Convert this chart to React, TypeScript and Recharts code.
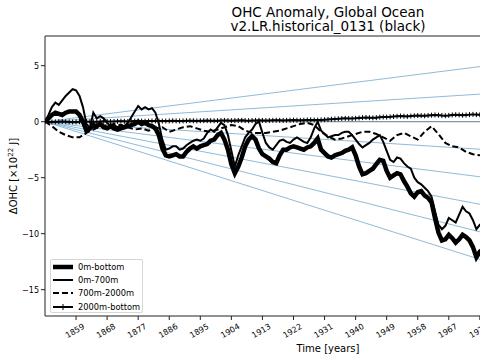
import React from 'react';
import { LineChart, Line, XAxis, YAxis, ReferenceLine, Legend } from 'recharts';

const FONT = '"DejaVu Sans", sans-serif';

// x axis
const X_DOMAIN = [1850, 2014];
const X_TICKS = [1859, 1868, 1877, 1886, 1895, 1904, 1913, 1922, 1931, 1940, 1949, 1958, 1967, 1976, 1985, 1994, 2003, 2012];
const Y_DOMAIN = [-17.35, 7.65];
const Y_TICKS = [-15, -10, -5, 0, 5];

// reference trend lines: start at 0 in 1850, value reached at 2014
const TREND_YEARS = [1850, 2014];
const TREND_END = [6.4, 3.2, 0, -3.2, -6.4, -9.6, -12.8, -16.0];

// annual series, first year 1850
const FIRST_YEAR = 1850;
const OHC_0_BOTTOM = [
  0, 0.3, 0.6, 0.8, 0.7, 0.6, 0.8, 0.9, 0.9, 0.9,
  0.6, 0.0, -0.8, -0.6, -0.3, -0.4, -0.2, -0.5, -0.6, -0.4,
  -0.6, -0.7, -0.6, -0.5, -0.4, -0.3, -0.2, 0.0, -0.2, -0.1,
  -0.3, -0.4, -0.6, -1.2, -2.4, -3.0, -3.1, -3.0, -2.9, -3.1,
  -3.1, -2.7, -2.4, -2.2, -2.4, -2.2, -2.1, -2.0, -1.7, -1.6,
  -1.2, -1.0, -1.6, -2.5, -3.8, -4.6, -4.0, -3.2, -2.2, -1.6,
  -1.3, -1.6, -2.4, -2.9, -3.1, -3.3, -3.6, -3.7, -3.0, -2.5,
  -2.5, -2.3, -2.2, -2.3, -2.4, -2.5, -2.3, -2.2, -1.9, -1.5,
  -2.5, -2.8, -3.1, -3.2, -3.0, -2.9, -2.8, -2.6, -2.5, -2.3,
  -3.0, -4.0, -4.7, -4.6, -4.4, -4.2, -3.8, -3.4, -3.5, -4.4,
  -5.0, -4.8, -4.6, -4.7, -5.3, -5.8, -6.4, -6.7, -6.3, -6.2,
  -6.6, -6.8, -7.2, -8.6, -9.9, -10.6, -10.5, -10.1, -10.4, -10.8,
  -10.5, -10.1, -10.3, -10.6, -11.2, -12.1, -11.6, -11.4,
];
const OHC_0_700 = [
  0, 0.6, 1.3, 1.7, 1.5, 1.9, 2.3, 2.6, 2.9, 2.8,
  2.3, 1.3, -0.2, -0.6, 0.8, 0.3, 0.5, 0.3, -0.1, -0.4,
  -0.3, -0.5, -0.3, -0.4, -0.1, 0.4, 0.9, 1.4, 1.1, 1.3,
  1.1, 1.2, 0.8, -0.2, -1.6, -2.5, -2.4, -2.2, -2.2, -2.5,
  -2.4, -2.1, -1.9, -1.7, -1.6, -1.7, -1.5, -1.0, -0.7, -0.9,
  -0.5, -0.1, -0.3, -1.2, -2.6, -4.0, -3.0, -2.2, -1.4, -1.0,
  -0.7, -0.2, 0.0, -1.0, -1.9, -2.3, -2.5, -2.1, -1.7, -1.6,
  -1.8, -1.9, -1.6, -1.4, -1.6, -1.8, -1.9, -1.4, -0.6, 0.0,
  -0.8, -1.1, -1.4, -1.3, -1.2, -1.2, -1.0, -0.9, -0.9, -1.2,
  -1.6, -2.0, -2.3, -2.1, -1.9, -1.6, -1.4, -1.2, -1.8, -2.6,
  -3.4, -3.6, -3.2, -3.3, -3.7, -4.0, -4.2, -5.0, -5.4, -5.6,
  -5.9, -6.2, -6.7, -8.0, -9.2, -9.6, -9.3, -8.6, -8.8, -9.0,
  -8.3, -7.6, -8.0, -8.2, -8.8, -9.6, -9.2, -9.0,
];
const OHC_2000_BOTTOM = [
  0, -0.02, -0.03, -0.02, 0, 0.01, 0, -0.02, -0.03, -0.02,
  0, 0.02, 0.01, 0, -0.01, 0, 0.02, 0.03, 0.02, 0.01,
  0.02, 0.03, 0.04, 0.03, 0.02, 0.03, 0.05, 0.06, 0.05, 0.04,
  0.05, 0.06, 0.07, 0.06, 0.05, 0.06, 0.07, 0.08, 0.07, 0.06,
  0.07, 0.08, 0.09, 0.08, 0.07, 0.08, 0.09, 0.1, 0.09, 0.08,
  0.09, 0.1, 0.11, 0.1, 0.09, 0.1, 0.11, 0.12, 0.1, 0.09,
  0.1, 0.11, 0.12, 0.11, 0.1, 0.11, 0.12, 0.13, 0.12, 0.11,
  0.12, 0.13, 0.14, 0.13, 0.12, 0.13, 0.15, 0.16, 0.15, 0.14,
  0.16, 0.18, 0.2, 0.22, 0.24, 0.26, 0.28, 0.3, 0.29, 0.28,
  0.3, 0.33, 0.36, 0.38, 0.36, 0.34, 0.36, 0.4, 0.42, 0.41,
  0.43, 0.46, 0.48, 0.5, 0.49, 0.47, 0.5, 0.53, 0.55, 0.54,
  0.52, 0.55, 0.58, 0.6, 0.58, 0.55, 0.53, 0.56, 0.6, 0.62,
  0.6, 0.58, 0.6, 0.63, 0.65, 0.63, 0.62, 0.64,
];
// two-yearly series, first year 1850
const OHC_700_2000 = [
  0, -0.4, -0.9, -1.2, -1.4, -1.4, -1.0, -0.7, -0.4, -0.3,
  -0.2, -0.3, -0.5, -0.7, -0.6, -0.8, -0.6, -0.5, -0.9, -0.7,
  -0.5, -0.4, -0.6, -0.8, -0.9, -0.7, -0.5, -0.3, -0.4, -0.8,
  -1.0, -1.0, -1.0, -0.9, -0.8, -0.6, -0.4, -0.2, -0.1, -0.3,
  -0.9, -1.3, -1.6, -1.5, -1.3, -1.1, -0.9, -0.9, -1.1, -1.4,
  -1.7, -1.2, -1.0, -1.3, -1.6, -0.9, -0.4, -1.1, -1.9, -2.2,
  -2.3, -2.7, -2.9, -3.0, -3.1,
];

const toRows = (vals: number[], step: number) =>
  vals.map((v, i) => ({ year: FIRST_YEAR + i * step, v }));

const fmtY = (v: number) => (v < 0 ? `\u2212${Math.abs(v)}` : `${v}`);

const XTick = (props: any) => {
  const { x, y, payload } = props;
  return (
    <g transform={`translate(${x - 1},${y + 9})`}>
      <text transform="rotate(-30)" textAnchor="middle" dominantBaseline="central" fontSize={8} fontFamily={FONT} fill="#000">
        {payload.value}
      </text>
    </g>
  );
};

const PlusDot = (props: any) => {
  const { cx, cy, index } = props;
  if (cx == null || cy == null) return <g key={`p${index}`} />;
  return (
    <path key={`p${index}`} d={`M${cx - 2.5},${cy}h5M${cx},${cy - 2.5}v5`} stroke="#000" strokeWidth={1} fill="none" />
  );
};

const LEGEND_ITEMS = [
  { label: '0m-bottom', width: 4.5, dash: undefined, plus: false },
  { label: '0m-700m', width: 2, dash: undefined, plus: false },
  { label: '700m-2000m', width: 2, dash: '6 3', plus: false },
  { label: '2000m-bottom', width: 2, dash: undefined, plus: true },
];

const LegendBox = () => (
  <div
    style={{
      width: 93,
      height: 54,
      border: '1px solid #d6d6d6',
      borderRadius: 2,
      background: 'rgba(255,255,255,0.8)',
      boxSizing: 'border-box',
      paddingTop: 0,
    }}
  >
    {LEGEND_ITEMS.map((it) => (
      <div key={it.label} style={{ display: 'flex', alignItems: 'center', height: 13.3, fontFamily: FONT, fontSize: 8.3, color: '#000' }}>
        <svg width={26} height={10} style={{ marginLeft: 1 }}>
          <line x1={1} y1={5} x2={21} y2={5} stroke="#000" strokeWidth={it.width} strokeDasharray={it.dash} />
          {it.plus && <line x1={11} y1={2} x2={11} y2={8} stroke="#000" strokeWidth={1} />}
        </svg>
        <span>{it.label}</span>
      </div>
    ))}
  </div>
);

const YLabel = (props: any) => {
  const cy = props.viewBox ? props.viewBox.y + props.viewBox.height / 2 : 176;
  return (
    <text x={17} y={cy} transform={`rotate(-90, 17, ${cy})`} textAnchor="middle" fontSize={10} fontFamily={FONT} fill="#000">
      ΔOHC [×10<tspan dy={-4} fontSize={7}>22</tspan>
      <tspan dy={4}> J]</tspan>
    </text>
  );
};

const XLabel = (props: any) => {
  const cx = props.viewBox ? props.viewBox.x + props.viewBox.width / 2 : 328;
  return (
    <text x={cx} y={351.5} textAnchor="middle" fontSize={10} fontFamily={FONT} fill="#000">
      Time [years]
    </text>
  );
};

const App: React.FC = () => {
  const thick = toRows(OHC_0_BOTTOM, 1);
  const upper = toRows(OHC_0_700, 1);
  const mid = toRows(OHC_700_2000, 2);
  const deep = toRows(OHC_2000_BOTTOM, 1);

  return (
    <div style={{ position: 'absolute', left: 0, top: 0, width: 480, height: 360, overflow: 'hidden', background: '#fff' }}>
      <div
        style={{
          position: 'absolute',
          left: 0,
          top: 4.6,
          width: 656,
          textAlign: 'center',
          fontFamily: FONT,
          fontSize: 13.5,
          lineHeight: '14.5px',
          color: '#000',
        }}
      >
        OHC Anomaly, Global Ocean
        <br />
        v2.LR.historical_0131 (black)
      </div>
      <div style={{ position: 'absolute', left: 0, top: 0 }}>
        <LineChart width={620} height={360} margin={{ top: 36, right: 9, bottom: 0, left: 10 }}>
          <XAxis
            type="number"
            dataKey="year"
            domain={X_DOMAIN}
            ticks={X_TICKS}
            interval={0}
            allowDataOverflow
            height={44}
            tick={XTick}
            tickSize={4}
            tickMargin={2}
            stroke="#222"
            label={{ content: XLabel }}
          />
          <YAxis
            type="number"
            domain={Y_DOMAIN}
            ticks={Y_TICKS}
            interval={0}
            allowDataOverflow
            width={35}
            tickSize={4}
            tickMargin={2}
            tickFormatter={fmtY}
            tick={{ fontSize: 8, fontFamily: FONT, fill: '#000' }}
            stroke="#222"
            label={{ content: YLabel }}
          />
          <ReferenceLine y={Y_DOMAIN[1]} stroke="#222" strokeWidth={1} />
          {TREND_END.map((end, i) => (
            <Line
              key={`trend${i}`}
              data={[
                { year: TREND_YEARS[0], v: 0 },
                { year: TREND_YEARS[1], v: end },
              ]}
              dataKey="v"
              stroke={end === 0 ? '#7f95a8' : '#8fbbd9'}
              strokeWidth={end === 0 ? 1.3 : 1}
              dot={false}
              activeDot={false}
              isAnimationActive={false}
              legendType="none"
            />
          ))}
          <Line data={mid} dataKey="v" name="700m-2000m" stroke="#000" strokeWidth={2} strokeDasharray="6 3" dot={false} activeDot={false} isAnimationActive={false} />
          <Line data={deep} dataKey="v" name="2000m-bottom" stroke="#000" strokeWidth={2} dot={PlusDot} activeDot={false} isAnimationActive={false} />
          <Line data={upper} dataKey="v" name="0m-700m" stroke="#000" strokeWidth={2} dot={false} activeDot={false} isAnimationActive={false} />
          <Line data={thick} dataKey="v" name="0m-bottom" stroke="#000" strokeWidth={4.5} dot={false} activeDot={false} isAnimationActive={false} />
          <Legend layout="vertical" align="center" verticalAlign="middle" wrapperStyle={{ left: 50, top: 259, width: 'auto' }} content={LegendBox} />
        </LineChart>
      </div>
    </div>
  );
};

export default App;
